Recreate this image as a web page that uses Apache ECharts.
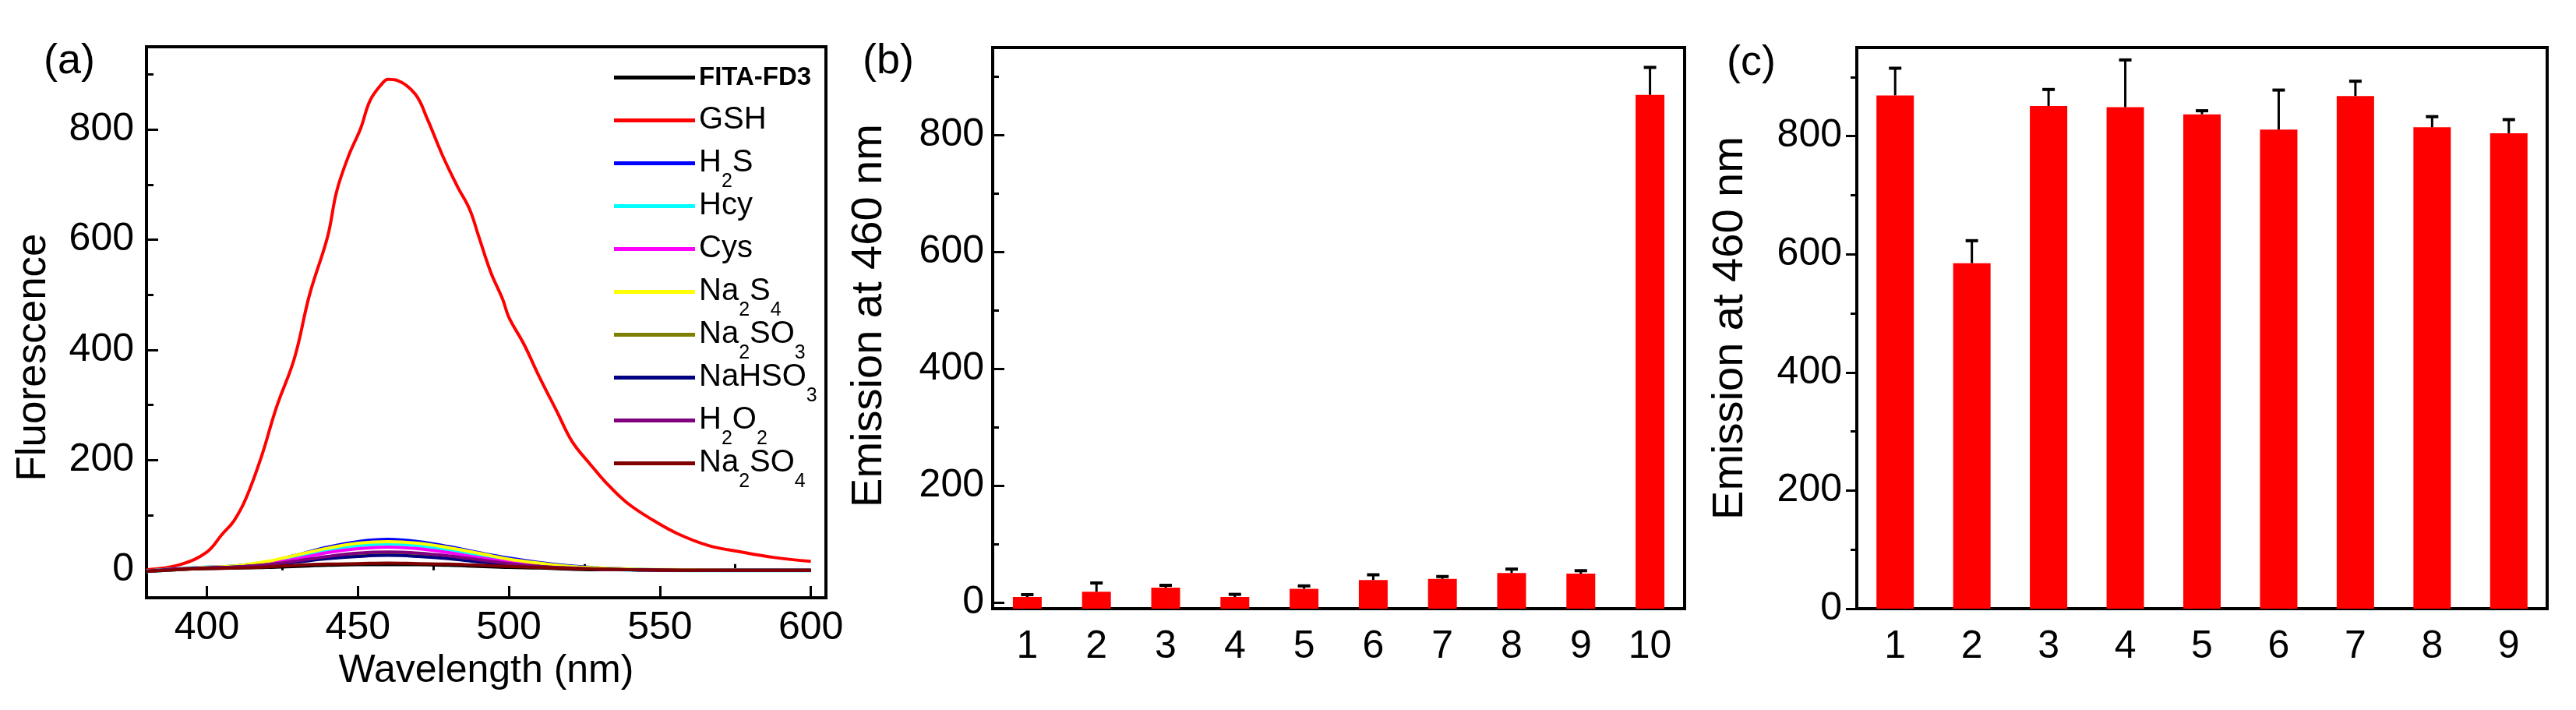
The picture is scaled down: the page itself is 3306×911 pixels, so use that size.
<!DOCTYPE html>
<html><head><meta charset="utf-8">
<script src="https://cdn.jsdelivr.net/npm/echarts@6/dist/echarts.min.js"></script>
<style>html,body{margin:0;padding:0;background:#fff}#c{width:3306px;height:911px}</style>
</head><body><div id="c"></div><script>
// ---------- data ----------
const seriesNames = ['FITA-FD3','GSH','H2S','Hcy','Cys','Na2S4','Na2SO3','NaHSO3','H2O2','Na2SO4'];
const seriesColors = ['#000000','#FF0000','#0000FF','#00FFFF','#FF00FF','#FFFF00','#808000','#000080','#800080','#800000'];
const smallWavelengths = [380,390,400,410,420,430,440,450,460,470,480,490,500,510,520,530,540,560,580,600];
const fitaFD3 = [-2,1,3,4,5,7,9,10,10,10,9,7,5,4,2,1,1,0,0,0];
const h2s     = [-2,2,5,8,15,28,42,52,56,52,43,32,22,14,8,4,2,0,0,0];
const hcy     = [-2,2,5,7,13,24,37,45,48,45,37,27,18,11,6,3,1,0,0,0];
const cys     = [-2,2,5,7,12,21,32,39,42,39,32,23,15,9,5,2,1,0,0,0];
const na2s4   = [-2,2,5,8,16,28,40,49,52,49,41,31,20,13,7,4,2,1,0,0];
const na2so3  = [-2,2,4,6,10,16,23,28,30,28,23,17,11,7,4,2,1,0,0,0];
const nahso3  = [-2,2,4,6,9,15,21,25,27,25,21,15,10,6,3,2,1,0,0,0];
const h2o2    = [-2,2,4,6,10,17,25,31,33,31,26,19,12,7,4,2,1,0,0,0];
const na2so4  = [-2,1,3,4,6,9,11,12,13,12,11,9,7,5,3,2,1,0,0,0];
const gshWavelengths = [380,391,400,405,409,413,418,423,429,434,440,443,447,451,454,458,460,463,469,473,478,483,487,490,494,498,500,505,510,516,521,527,532,539,548,556,566,577,588,600];
const gshValues      = [1,10,33,65,90,131,205,295,385,500,606,688,753,803,852,883,891,889,864,819,753,696,655,606,541,491,459,410,352,287,233,192,160,123,90,66,45,33,23,16];

const catsB = ['1','2','3','4','5','6','7','8','9','10'];
const emissionB = [10,19,26,10,24,39,41,51,50,869];
const errorB    = [4,15,4,4.5,5,9,4,6.7,5,47];
const catsC = ['1','2','3','4','5','6','7','8','9'];
const emissionC = [869,585,851,849,837,811,868,815,805];
const errorC    = [46,38,28,80,6,67,25,18,23];

const yMajor = [0,200,400,600,800];
const yMinor = [100,300,500,700,900];
const xMajorA = [400,450,500,550,600];
const xMinorA = [425,475,525,575];

// ---------- chart ----------
const FONT = 'Liberation Sans, Arial, sans-serif';
const smallSets = {'FITA-FD3':fitaFD3,'H2S':h2s,'Hcy':hcy,'Cys':cys,'Na2S4':na2s4,'Na2SO3':na2so3,'NaHSO3':nahso3,'H2O2':h2o2,'Na2SO4':na2so4};
const chart = echarts.init(document.getElementById('c'), null, {renderer:'canvas'});
const axLine = {show:true, onZero:false, lineStyle:{color:'#000', width:4}};
const lbl = (vals, margin) => ({customValues: vals, fontSize:50, color:'#000', fontFamily:FONT, margin:margin});
const frameAxis = (g, pos) => ({gridIndex:g, type:'value', min:0, max:1, position:pos, axisLine:{show:true, onZero:false, lineStyle:{color:'#000', width:4}},
  axisTick:{show:false}, axisLabel:{show:false}, splitLine:{show:false}});

const lineSeries = seriesNames.map((n,i)=>{
  const data = n==='GSH' ? gshWavelengths.map((w,k)=>[w,gshValues[k]]) : smallWavelengths.map((w,k)=>[w,smallSets[n][k]]);
  return {type:'line', name:n, xAxisIndex:0, yAxisIndex:0, data:data, smooth:0.4, symbol:'none', showSymbol:false,
    lineStyle:{color:seriesColors[i], width: n==='Hcy'?5:4}, itemStyle:{color:seriesColors[i]}};
});

function errRender(params, api){
  const x = api.value(0), v = api.value(1), e = api.value(2);
  const p0 = api.coord([x, v]), p1 = api.coord([x, v+e]);
  return {type:'group', children:[
    {type:'line', shape:{x1:p0[0],y1:p0[1],x2:p1[0],y2:p1[1]}, style:{stroke:'#000', lineWidth:3}},
    {type:'line', shape:{x1:p1[0]-8,y1:p1[1],x2:p1[0]+8,y2:p1[1]}, style:{stroke:'#000', lineWidth:4}}
  ]};
}

const option = {
  animation:false,
  backgroundColor:'#fff',
  textStyle:{fontFamily:FONT, color:'#000'},
  grid:[
    {left:188, top:60, width:872, height:707, show:true, borderColor:'#000', borderWidth:4},
    {left:1274, top:61, width:888, height:720, show:true, borderColor:'#000', borderWidth:4},
    {left:2383, top:61, width:886, height:720, show:true, borderColor:'#000', borderWidth:4}
  ],
  legend:{
    orient:'vertical', left:783, top:58, itemWidth:104, itemHeight:5, itemGap:-18, icon:'rect',
    selectedMode:false, data:seriesNames,
    formatter:function(name){
      if(name==='FITA-FD3') return '{b|FITA-FD3}';
      return '{n|' + name.replace(/(\d)/g, '}{s|$1}{n|') + '}';
    },
    textStyle:{rich:{
      n:{fontSize:40, height:40, padding:[16,0,17,0], backgroundColor:'transparent', fontFamily:FONT, color:'#000'},
      s:{fontSize:25, height:25, padding:[48,0,0,0], backgroundColor:'transparent', fontFamily:FONT, color:'#000'},
      b:{fontSize:33, height:33, padding:[20,0,20,0], backgroundColor:'transparent', fontWeight:'bold', fontFamily:FONT, color:'#000'}
    }}
  },
  xAxis:[
    {gridIndex:0, type:'value', min:380, max:605, position:'bottom', axisLine:axLine,
     axisTick:{customValues:xMajorA, inside:true, length:15, lineStyle:{color:'#000', width:3}},
     axisLabel:lbl(xMajorA,14), splitLine:{show:false},
     name:'Wavelength (nm)', nameLocation:'middle', nameGap:62, nameTextStyle:{fontSize:50, color:'#000', fontFamily:FONT}},
    {gridIndex:0, type:'value', min:380, max:605, position:'bottom', offset:0, axisLine:{show:false},
     axisTick:{customValues:xMinorA, inside:true, length:8, lineStyle:{color:'#000', width:3}},
     axisLabel:{show:false}, splitLine:{show:false}},
    {gridIndex:1, type:'category', data:catsB, position:'bottom', axisLine:axLine,
     axisTick:{alignWithLabel:true, inside:false, length:16, lineStyle:{color:'#000', width:3}},
     axisLabel:{fontSize:50, color:'#000', fontFamily:FONT, margin:24}, splitLine:{show:false}},
    {gridIndex:1, type:'category', data:catsB, position:'bottom', offset:0, axisLine:{show:false},
     axisTick:{alignWithLabel:false, inside:false, length:10, lineStyle:{color:'#000', width:3}},
     axisLabel:{show:false}, splitLine:{show:false}},
    {gridIndex:2, type:'category', data:catsC, position:'bottom', axisLine:axLine,
     axisTick:{alignWithLabel:true, inside:false, length:15, lineStyle:{color:'#000', width:3}},
     axisLabel:{fontSize:50, color:'#000', fontFamily:FONT, margin:24}, splitLine:{show:false}},
    {gridIndex:2, type:'category', data:catsC, position:'bottom', offset:0, axisLine:{show:false},
     axisTick:{alignWithLabel:false, inside:false, length:8, lineStyle:{color:'#000', width:3}},
     axisLabel:{show:false}, splitLine:{show:false}},
    frameAxis(0,'top'), frameAxis(1,'top'), frameAxis(2,'top')
  ],
  yAxis:[
    {gridIndex:0, type:'value', min:-50, max:950, position:'left', axisLine:axLine,
     axisTick:{customValues:yMajor, inside:true, length:15, lineStyle:{color:'#000', width:3}},
     axisLabel:lbl(yMajor,16), splitLine:{show:false},
     name:'Fluorescence', nameLocation:'middle', nameRotate:90, nameGap:118,
     nameTextStyle:{fontSize:53, color:'#000', fontFamily:FONT, padding:[0,90,0,0]}},
    {gridIndex:0, type:'value', min:-50, max:950, position:'left', offset:0, axisLine:{show:false},
     axisTick:{customValues:yMinor, inside:true, length:9, lineStyle:{color:'#000', width:3}},
     axisLabel:{show:false}, splitLine:{show:false}},
    {gridIndex:1, type:'value', min:-10, max:950, startValue:-10, position:'left', axisLine:axLine,
     axisTick:{customValues:yMajor, inside:true, length:15, lineStyle:{color:'#000', width:3}},
     axisLabel:lbl(yMajor,11), splitLine:{show:false},
     name:'Emission at 460 nm', nameLocation:'middle', nameRotate:90, nameGap:130,
     nameTextStyle:{fontSize:56, color:'#000', fontFamily:FONT, padding:[0,0,0,32]}},
    {gridIndex:1, type:'value', min:-10, max:950, position:'left', offset:0, axisLine:{show:false},
     axisTick:{customValues:yMinor, inside:true, length:8, lineStyle:{color:'#000', width:3}},
     axisLabel:{show:false}, splitLine:{show:false}},
    {gridIndex:2, type:'value', min:0, max:950, position:'left', axisLine:axLine,
     axisTick:{customValues:yMajor, inside:false, length:14, lineStyle:{color:'#000', width:3}},
     axisLabel:lbl(yMajor,19), splitLine:{show:false},
     name:'Emission at 460 nm', nameLocation:'middle', nameRotate:90, nameGap:134,
     nameTextStyle:{fontSize:56, color:'#000', fontFamily:FONT}},
    {gridIndex:2, type:'value', min:0, max:950, position:'left', offset:0, axisLine:{show:false},
     axisTick:{customValues:yMinor, inside:false, length:8, lineStyle:{color:'#000', width:3}},
     axisLabel:{show:false}, splitLine:{show:false}},
    frameAxis(0,'right'), frameAxis(1,'right'), frameAxis(2,'right')
  ],
  graphic:[
    {type:'text', left:56, top:52, style:{text:'(a)', fontSize:54, fontFamily:FONT, fill:'#000'}},
    {type:'text', left:1107, top:52, style:{text:'(b)', fontSize:54, fontFamily:FONT, fill:'#000'}},
    {type:'text', left:2216, top:54, style:{text:'(c)', fontSize:54, fontFamily:FONT, fill:'#000'}}
  ],
  series: lineSeries.concat([
    {type:'bar', name:'b', xAxisIndex:2, yAxisIndex:2, data:emissionB, barWidth:37, itemStyle:{color:'#FF0000'}},
    {type:'custom', name:'be', xAxisIndex:2, yAxisIndex:2, renderItem:errRender, z:5,
     encode:{x:0, y:1}, data:emissionB.map((v,i)=>[i, v, errorB[i]])},
    {type:'bar', name:'c', xAxisIndex:4, yAxisIndex:4, data:emissionC, barWidth:48, itemStyle:{color:'#FF0000'}},
    {type:'custom', name:'ce', xAxisIndex:4, yAxisIndex:4, renderItem:errRender, z:5,
     encode:{x:0, y:1}, data:emissionC.map((v,i)=>[i, v, errorC[i]])}
  ])
};
chart.setOption(option);
</script></body></html>
